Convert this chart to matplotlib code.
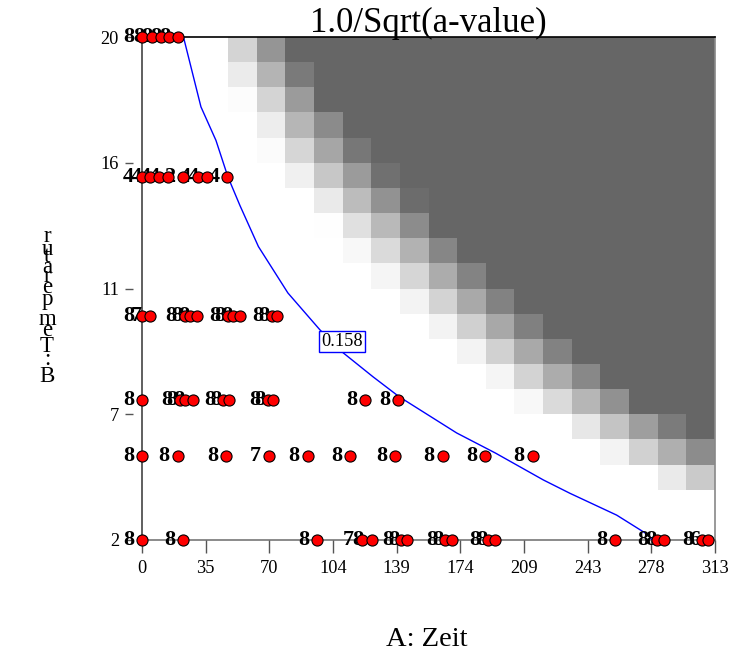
import numpy as np
import matplotlib
matplotlib.use("Agg")
import matplotlib.pyplot as plt
from matplotlib.colors import LinearSegmentedColormap

plt.rcParams['font.family'] = ['Liberation Serif', 'DejaVu Serif']

# ---- axes ---------------------------------------------------------------
x_range = (0, 313)
y_range = (2, 20)
x_ticks = np.linspace(0, 313, 10)
x_tick_labels = ['0', '35', '70', '104', '139', '174', '209', '243', '278', '313']
y_ticks = np.linspace(2, 20, 5)
y_tick_labels = ['2', '7', '11', '16', '20']

title = '1.0/Sqrt(a-value)'
x_title = 'A: Zeit'
y_title = 'B: Temperatur'

# ---- shaded response grid (20 x 20), top row first; 0 = white, 1 = darkest
shade = [
    [0, 0, 0, .28, .69, 1, 1, 1, 1, 1, 1, 1, 1, 1, 1, 1, 1, 1, 1, 1],
    [0, 0, 0, .13, .49, .87, 1, 1, 1, 1, 1, 1, 1, 1, 1, 1, 1, 1, 1, 1],
    [0, 0, 0, .02, .28, .65, 1, 1, 1, 1, 1, 1, 1, 1, 1, 1, 1, 1, 1, 1],
    [0, 0, 0, 0, .12, .48, .76, 1, 1, 1, 1, 1, 1, 1, 1, 1, 1, 1, 1, 1],
    [0, 0, 0, 0, .03, .27, .58, .89, 1, 1, 1, 1, 1, 1, 1, 1, 1, 1, 1, 1],
    [0, 0, 0, 0, 0, .10, .37, .65, .93, 1, 1, 1, 1, 1, 1, 1, 1, 1, 1, 1],
    [0, 0, 0, 0, 0, 0, .14, .44, .71, .96, 1, 1, 1, 1, 1, 1, 1, 1, 1, 1],
    [0, 0, 0, 0, 0, 0, .01, .20, .46, .75, 1, 1, 1, 1, 1, 1, 1, 1, 1, 1],
    [0, 0, 0, 0, 0, 0, 0, .05, .24, .50, .79, 1, 1, 1, 1, 1, 1, 1, 1, 1],
    [0, 0, 0, 0, 0, 0, 0, 0, .07, .27, .54, .81, 1, 1, 1, 1, 1, 1, 1, 1],
    [0, 0, 0, 0, 0, 0, 0, 0, 0, .08, .29, .56, .82, 1, 1, 1, 1, 1, 1, 1],
    [0, 0, 0, 0, 0, 0, 0, 0, 0, 0, .08, .31, .57, .83, 1, 1, 1, 1, 1, 1],
    [0, 0, 0, 0, 0, 0, 0, 0, 0, 0, 0, .08, .30, .56, .82, 1, 1, 1, 1, 1],
    [0, 0, 0, 0, 0, 0, 0, 0, 0, 0, 0, 0, .07, .29, .54, .78, 1, 1, 1, 1],
    [0, 0, 0, 0, 0, 0, 0, 0, 0, 0, 0, 0, 0, .05, .24, .48, .72, 1, 1, 1],
    [0, 0, 0, 0, 0, 0, 0, 0, 0, 0, 0, 0, 0, 0, 0, .16, .39, .63, .86, 1],
    [0, 0, 0, 0, 0, 0, 0, 0, 0, 0, 0, 0, 0, 0, 0, 0, .08, .30, .52, .75],
    [0, 0, 0, 0, 0, 0, 0, 0, 0, 0, 0, 0, 0, 0, 0, 0, 0, 0, .14, .35],
    [0] * 20,
    [0] * 20,
]

# ---- contour 1.0/Sqrt(a-value) = 0.158 ------------------------------------
contour_level = '0.158'
contour_zeit = [22.8, 32.2, 40.4, 46.9, 53.5, 63.6, 79.7, 97.2, 109.1,
                126.2, 140.4, 171.9, 193.1, 219.2, 233.8, 259.3, 276.6, 278.6]
contour_temp = [19.96, 17.5, 16.3, 15.0, 13.97, 12.5, 10.84, 9.52, 8.74,
                7.84, 7.13, 5.83, 5.11, 4.15, 3.67, 2.89, 2.18, 2.0]
contour_label_at = (109.3, 9.1)

# ---- design points: Zeit values and point labels per temperature level ---
temp_20 = 20
zeit_20 = [0, 5.4, 10.2, 15.0, 19.8]
label_20 = ['8', '8', '8', '8', '8']

temp_15 = 15
zeit_15 = [0, 4.4, 9.4, 14.0, 22.6, 30.8, 35.3, 46.6]
label_15 = ['4', '4', '4', '4', '2', '4', '4', '4']

temp_10 = 10
zeit_10 = [0, 4.2, 23.3, 26.2, 30.3, 47.0, 49.9, 53.8, 70.8, 73.9]
label_10 = ['8', '7', '8', '8', '8', '8', '8', '8', '8', '8']

temp_7 = 7
zeit_7 = [0, 20.8, 23.5, 27.7, 44.4, 47.7, 69.0, 71.7, 121.8, 140.0]
label_7 = ['8', '8', '8', '8', '8', '8', '8', '8', '8', '8']

temp_5 = 5
zeit_5 = [0, 19.5, 45.9, 69.4, 90.5, 113.6, 138.2, 164.3, 187.4, 213.4]
label_5 = ['8', '8', '8', '7', '8', '8', '8', '8', '8', '8']

temp_2 = 2
zeit_2 = [0, 22.6, 95.8, 120.0, 125.5, 141.5, 144.9, 165.5, 169.2, 189.2,
          192.8, 258.4, 281.2, 285.3, 305.7, 309.3]
label_2 = ['8', '8', '8', '7', '8', '8', '8', '8', '8', '8',
           '8', '8', '8', '8', '8', '6']

levels = [
    (temp_20, zeit_20, label_20),
    (temp_15, zeit_15, label_15),
    (temp_10, zeit_10, label_10),
    (temp_7, zeit_7, label_7),
    (temp_5, zeit_5, label_5),
    (temp_2, zeit_2, label_2),
]

# ---- figure -------------------------------------------------------------
W, H = 729, 651
fig = plt.figure(figsize=(W / 100, H / 100), dpi=100)
fig.patch.set_facecolor('white')
left, right, top, bottom = 142, 715, 37, 540
ax = fig.add_axes([left / W, (H - bottom) / H, (right - left) / W, (bottom - top) / H])
ax.set_xlim(*x_range)
ax.set_ylim(*y_range)

gray_map = LinearSegmentedColormap.from_list('shade', ['#ffffff', '#666666'])
n_rows, n_cols = len(shade), len(shade[0])
x_edges = np.linspace(x_range[0], x_range[1], n_cols + 1)
y_edges = np.linspace(y_range[0], y_range[1], n_rows + 1)
ax.pcolormesh(x_edges, y_edges, np.array(shade)[::-1], cmap=gray_map,
              vmin=0, vmax=1, shading='flat', antialiased=False,
              edgecolors='none', zorder=0)

ax.plot(contour_zeit, contour_temp, color='#0000ff', lw=1.0, zorder=2)
ax.text(contour_label_at[0], contour_label_at[1], contour_level,
        ha='center', va='center', fontsize=13.2, color='black', zorder=3,
        bbox=dict(boxstyle='square,pad=0.12', fc='white', ec='#0000ff', lw=1.0))

px = 72 / 100  # points per pixel
for temp, zeits, labels in levels:
    for z, lab in zip(zeits, labels):
        ax.annotate(lab, (z, temp), xytext=(-13.5 * px, 0), textcoords='offset points',
                    ha='center', va='center', fontsize=16, fontweight='bold',
                    color='black', zorder=4, annotation_clip=False)
    ax.plot(zeits, [temp] * len(zeits), 'o', ms=8, mfc='#ff0000', mec='black',
            mew=0.8, clip_on=False, zorder=5)

# spines
ax.spines['left'].set_color('#444444')
ax.spines['top'].set_color('black')
ax.spines['bottom'].set_color('#777777')
ax.spines['right'].set_color('#888888')
for s in ax.spines.values():
    s.set_linewidth(1.2)
    s.set_zorder(1)

ax.set_xticks(x_ticks, x_tick_labels)
ax.tick_params(axis='x', direction='out', length=13 * px, width=1.0,
               color='#555555', pad=4.7, labelsize=13.2)
ax.set_yticks([])

# y ticks sit slightly apart from the left spine
sec = ax.secondary_yaxis(-9 / (right - left))
sec.set_yticks(y_ticks, y_tick_labels)
for s in sec.spines.values():
    s.set_visible(False)
sec.tick_params(axis='y', direction='out', length=8 * px, width=1.0,
                color='#555555', pad=4.3, labelsize=13.2)

# titles
fig.text(428.5 / W, (H - 32) / H, title, ha='center', va='baseline', fontsize=25)
fig.text(426.5 / W, (H - 646) / H, x_title, ha='center', va='baseline', fontsize=20.5)

# vertical axis title: upright characters stacked bottom to top
advance_em = {'B': .667, ':': .278, ' ': .25, 'T': .611, 'e': .444, 'm': .778,
              'p': .5, 'r': .333, 'a': .444, 't': .278, 'u': .5}
em_px = 25.3
base = 382
for ch in y_title:
    if ch != ' ':
        fig.text(47 / W, (H - base) / H, ch, ha='center', va='baseline', fontsize=16.5)
    base -= advance_em[ch] * em_px

fig.savefig('out.png', dpi=100)
